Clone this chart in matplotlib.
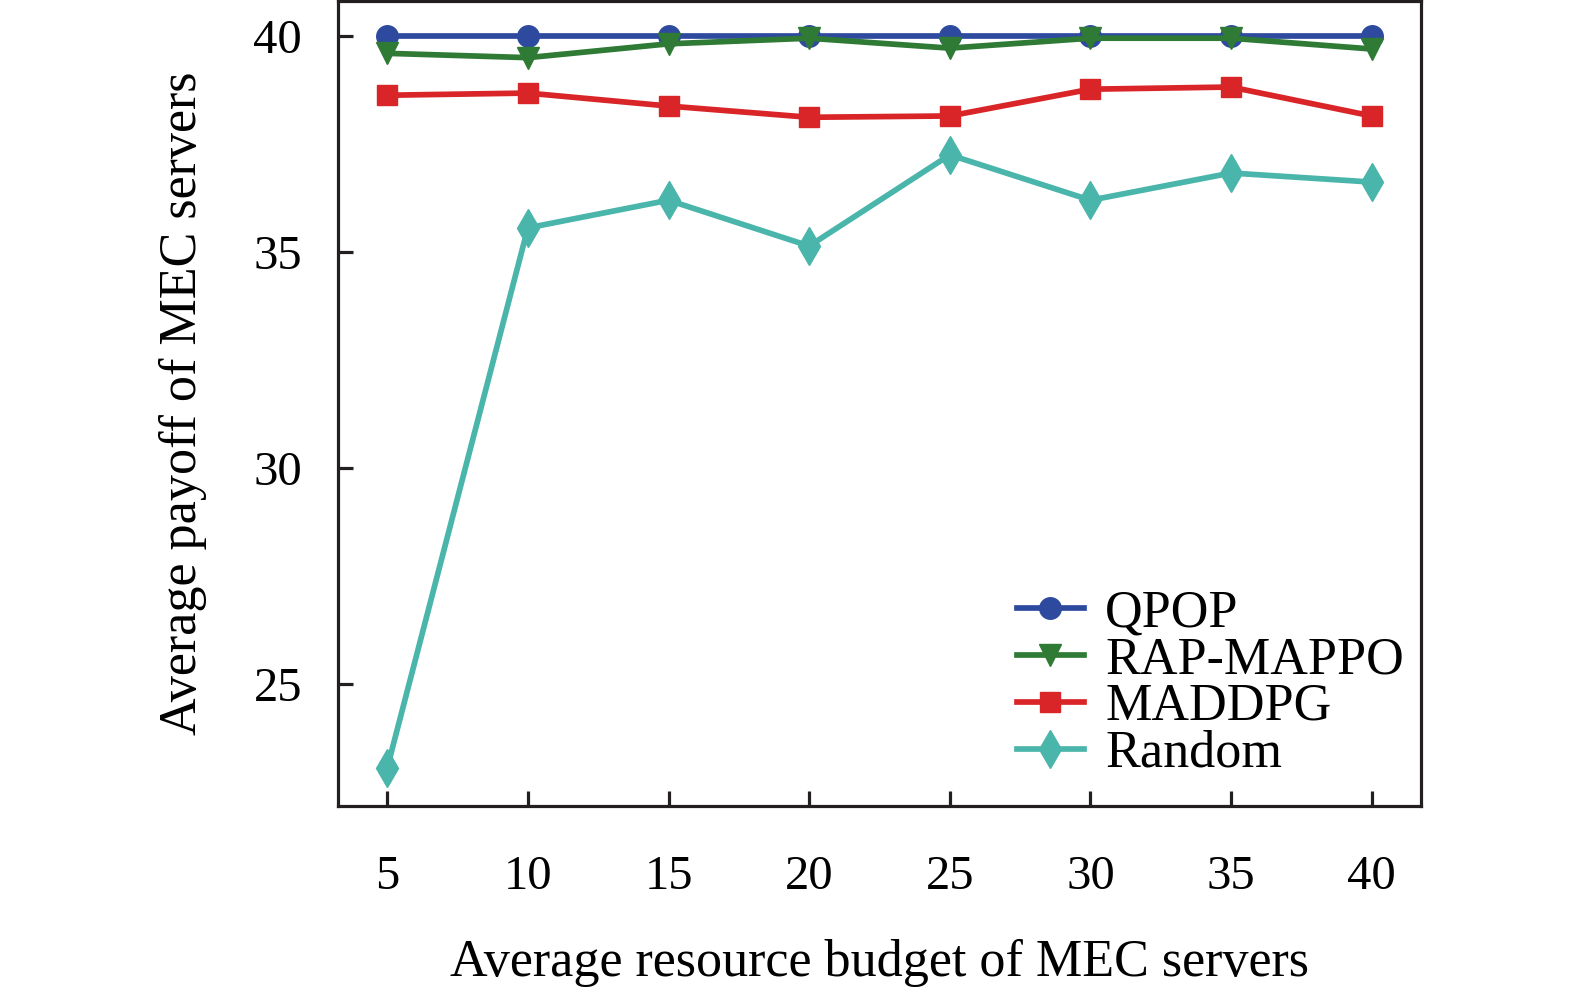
import matplotlib
matplotlib.use('Agg')
import matplotlib.pyplot as plt

plt.rcParams['font.family'] = ['Liberation Serif', 'DejaVu Serif']

budget = [5, 10, 15, 20, 25, 30, 35, 40]
qpop = [40.0, 40.0, 40.0, 40.0, 40.0, 40.0, 40.0, 40.0]
rap_mappo = [39.6, 39.5, 39.82, 39.95, 39.72, 39.95, 39.95, 39.7]
maddpg = [38.63, 38.68, 38.38, 38.12, 38.15, 38.77, 38.82, 38.15]
random_alloc = [23.06, 35.56, 36.2, 35.14, 37.25, 36.2, 36.83, 36.62]

series = [
    ('QPOP', qpop, '#2e4a9e', 'o', 15.5),
    ('RAP-MAPPO', rap_mappo, '#2f7a35', 'v', 15.5),
    ('MADDPG', maddpg, '#d92528', 's', 15),
    ('Random', random_alloc, '#4ab5aa', 'd', 19.5),
]

fig = plt.figure(figsize=(15.75, 9.9), dpi=100)
ax = fig.add_axes([0.2146, 0.1859, 0.6876, 0.8126])

for name, vals, col, mk, ms in series:
    ax.plot(budget, vals, color=col, marker=mk, markersize=ms, linewidth=4.1,
            label=name)

ax.set_xlim(3.25, 41.75)
ax.set_ylim(22.18, 40.8)
ax.set_xticks(budget)
ax.set_yticks([25, 30, 35, 40])

for s in ax.spines.values():
    s.set_linewidth(2.3)
    s.set_color('#231f20')
ax.tick_params(direction='in', length=11, width=2.3, color='#231f20',
               labelsize=35, pad=26)
ax.tick_params(axis='x', pad=35)

ax.set_xlabel('Average resource budget of MEC servers', fontsize=37.5, labelpad=29)
ax.set_ylabel('Average payoff of MEC servers', fontsize=37.5, labelpad=33)

ax.legend(loc='lower right', bbox_to_anchor=(1.013, -0.004), frameon=False,
          fontsize=37.5, handlelength=1.3, handletextpad=0.4, labelspacing=-0.02,
          borderaxespad=0.2)

fig.savefig('out.png', dpi=100)
